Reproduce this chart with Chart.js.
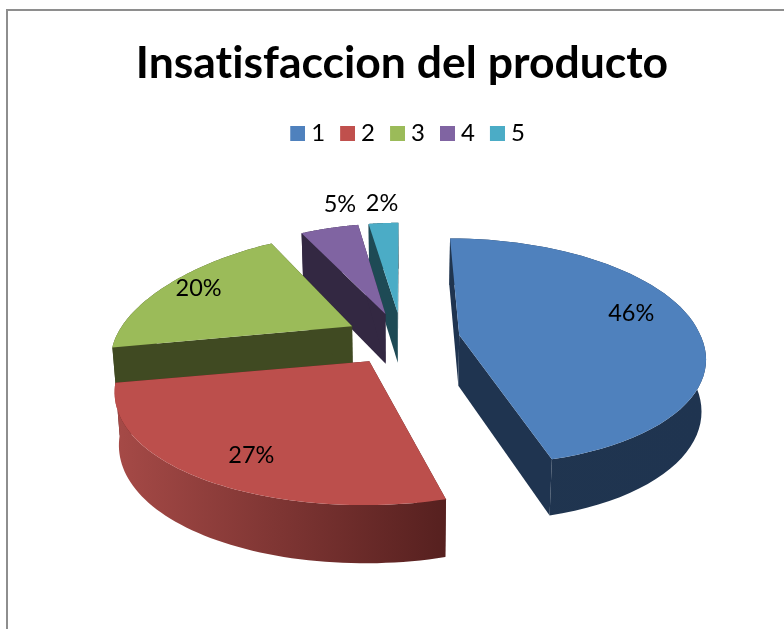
<!DOCTYPE html>
<html>
<head>
<meta charset="utf-8">
<title>Insatisfaccion del producto</title>
<script src="https://cdn.jsdelivr.net/npm/chart.js@4/dist/chart.umd.min.js"></script>
<style>
    html, body { margin: 0; padding: 0; background: #fff; overflow: hidden; }
    #wrap { position: relative; width: 784px; height: 629px; }
    #frame { position: absolute; left: 6px; top: 9px; width: 800px; height: 640px; border: 2px solid #8e8e8e; border-width: 2px 0 0 2px; }
    canvas { position: absolute; left: 0; top: 0; }
</style>
</head>
<body>
<div id="wrap">
    <div id="frame"></div>
    <canvas id="myPieChart" width="784" height="629"></canvas>
</div>
<script>
const categories = ['1', '2', '3', '4', '5'];
// shares, the labels show them rounded
const sliceValues = [46, 27, 19.8, 4.75, 2.45];

const topColors = ['#4f81bd', '#bc4f4c', '#9bbb59', '#8064a2', '#4bacc6'];
const legendColors = ['#4f81bd', '#c0504d', '#9bbb59', '#8064a2', '#4bacc6'];
const wallLeft = ['#20354f', '#a64a47', '#404a22', '#332842', '#1e4a55'];
const wallRight = ['#1f3450', '#56201f', '#404a22', '#332842', '#1e4a55'];
const sideColors = ['#1f3450', '#56201f', '#404a22', '#332842', '#1e4a55'];

// where each percent label sits, along the slice's middle line, then a small nudge
const labelRadius = [0.7, 0.55, 0.68, 1.12, 1.12];
const labelNudgeX = [10, -33, -24, 16, 0];
const labelNudgeY = [-7, 38, -6, -16, -11];

// look of the fake 3D pie (Excel style)
const R = 240, EXPLODE = 58, TILT = 0.459, PERSP = 0.192, DEPTH = 51, APEX_DROP = 5, SHEAR = 0.025, LEFT_SAG = 9;

function project(cx, cy, X, Y, lower) {
    const w = 1 / (1 - PERSP * Y / R);
    const sx = X + Math.max(Y, 0) * SHEAR;
    const sag = X < 0 ? LEFT_SAG * (X / R) * (X / R) : 0;
    if (lower) {
        return [cx + sx * w * 0.985, cy + sag + TILT * Y * w + DEPTH * Math.sqrt(w)];
    }
    return [cx + sx * w, cy + sag + TILT * Y * w];
}

function tracePath(ctx, pts) {
    ctx.beginPath();
    pts.forEach((p, i) => {
        if (i === 0) ctx.moveTo(p[0], p[1]);
        else ctx.lineTo(p[0], p[1]);
    });
    ctx.closePath();
}

function drawSlice(ctx, arc, i) {
    const mid = (arc.startAngle + arc.endAngle) / 2;
    const ox = EXPLODE * Math.cos(mid), oy = EXPLODE * Math.sin(mid);
    const steps = 60;
    const topArc = [], lowArc = [];
    for (let s = 0; s <= steps; s++) {
        const a = arc.startAngle + (arc.endAngle - arc.startAngle) * s / steps;
        const X = ox + R * Math.cos(a), Y = oy + R * Math.sin(a);
        topArc.push(project(arc.x, arc.y, X, Y, false));
        lowArc.push(project(arc.x, arc.y, X, Y, true));
    }
    const apexTop = project(arc.x, arc.y + APEX_DROP, ox, oy, false);
    const apexLow = project(arc.x, arc.y + APEX_DROP, ox, oy, true);

    // the two cut faces
    ctx.fillStyle = sideColors[i];
    tracePath(ctx, [apexTop, topArc[0], lowArc[0], apexLow]);
    ctx.fill();
    tracePath(ctx, [apexTop, topArc[steps], lowArc[steps], apexLow]);
    ctx.fill();

    // outer wall
    const xs = topArc.map(p => p[0]);
    const grad = ctx.createLinearGradient(Math.min(...xs), 0, Math.max(...xs), 0);
    grad.addColorStop(0, wallLeft[i]);
    grad.addColorStop(1, wallRight[i]);
    ctx.fillStyle = grad;
    tracePath(ctx, topArc.concat(lowArc.slice().reverse()));
    ctx.fill();

    // top face
    ctx.fillStyle = topColors[i];
    tracePath(ctx, [apexTop].concat(topArc));
    ctx.fill();
}

const pie3d = {
    id: 'pie3d',
    afterLayout(chart) {
        // reference legend sits a bit right of the middle
        chart.legend.left += 8;
        chart.legend.right += 8;
    },
    beforeDraw(chart) {
        // no "ti" ligature in the title
        chart.ctx.textRendering = 'optimizeSpeed';
    },
    beforeDatasetsDraw(chart) {
        const ctx = chart.ctx;
        const arcs = chart.getDatasetMeta(0).data;
        ctx.save();
        [4, 3, 2, 0, 1].forEach(i => drawSlice(ctx, arcs[i], i));

        ctx.fillStyle = '#000';
        ctx.font = '23.5px Lato';
        ctx.textAlign = 'center';
        ctx.textBaseline = 'middle';
        arcs.forEach((arc, i) => {
            const mid = (arc.startAngle + arc.endAngle) / 2;
            const r = EXPLODE + R * labelRadius[i];
            const p = project(arc.x, arc.y, r * Math.cos(mid), r * Math.sin(mid), false);
            ctx.fillText(Math.round(sliceValues[i]) + '%', p[0] + labelNudgeX[i], p[1] + labelNudgeY[i]);
        });
        ctx.restore();
        return false;
    }
};

// legend square with the tight gap to its number, chart.js keeps half the font size there
function legendSquare(color) {
    const c = document.createElement('canvas');
    c.width = 16;
    c.height = 15;
    const g = c.getContext('2d');
    g.fillStyle = color;
    g.fillRect(1, 0, 15, 15);
    return c;
}

window.onload = function() {
    const ctx = document.getElementById('myPieChart').getContext('2d');
    new Chart(ctx, {
        type: 'pie',
        plugins: [pie3d],
        data: {
            labels: categories,
            datasets: [{
                data: sliceValues,
                backgroundColor: legendColors,
                borderWidth: 0
            }]
        },
        options: {
            responsive: false,
            animation: false,
            layout: { padding: { left: 20, bottom: 118, top: 0, right: 0 } },
            plugins: {
                tooltip: { enabled: false },
                title: {
                    display: true,
                    text: 'Insatisfaccion del producto',
                    color: '#000',
                    font: { family: 'Lato', size: 44.5, weight: 'bold' },
                    padding: { top: 37, bottom: 11 }
                },
                legend: {
                    display: true,
                    position: 'top',
                    labels: {
                        color: '#000',
                        font: { family: 'Lato', size: 24 },
                        usePointStyle: true,
                        boxWidth: 4,
                        padding: 20,
                        generateLabels(chart) {
                            const items = Chart.overrides.pie.plugins.legend.labels.generateLabels(chart);
                            items.forEach((item, i) => { item.pointStyle = legendSquare(legendColors[i]); });
                            return items;
                        }
                    }
                }
            }
        }
    });
};
</script>
</body>
</html>
